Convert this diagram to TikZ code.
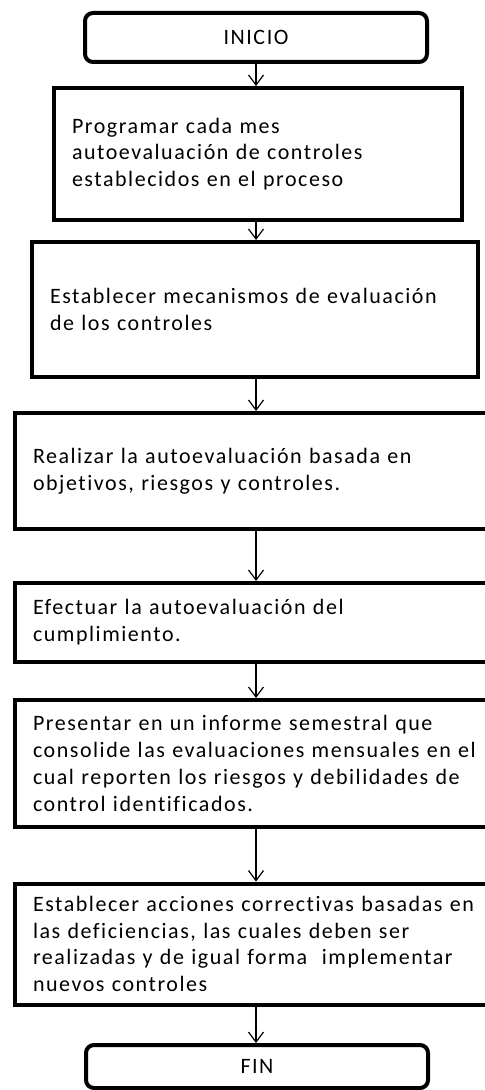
\documentclass[tikz,border=0pt]{standalone}
\usepackage{fontspec}
\setmainfont{Carlito}[LetterSpace=7,WordSpace=0.6,Ligatures=NoCommon]
\usepackage{tikz}
\usetikzlibrary{arrows.meta}

\tikzset{
    paso/.style={
        draw,
        line width=2pt,
        fill=white,
        align=left,
        anchor=west,
        inner xsep=9pt,
        font=\fontsize{11}{13.4}\selectfont
    },
    extremo/.style={
        draw,
        line width=2pt,
        rounded corners=4pt,
        fill=white,
        minimum width=171pt,
        font=\fontsize{11}{13.4}\selectfont
    },
    flecha/.style={
        -{Straight Barb[length=5pt,width=7.5pt]},
        line width=0.6pt
    }
}

\begin{document}
\begin{tikzpicture}[x=0.5pt,y=-0.5pt]

\useasboundingbox (0,0) rectangle (485,1090);

\node[extremo, minimum height=24.5pt] (inicio) at (256,37.5) {INICIO};

\node[paso, text width=186pt, minimum height=66pt] (prog) at (52,154)
{Programar cada mes\\
autoevaluación de controles\\
establecidos en el proceso};

\node[paso, text width=205pt, minimum height=67.5pt] (meca) at (30,309.5)
{Establecer mecanismos de evaluación\\
de los controles};

\node[paso, text width=240pt, minimum height=58pt] (real) at (13,471)
{Realizar la autoevaluación basada en\\
objetivos, riesgos y controles.};

\node[paso, text width=240pt, minimum height=39.5pt] (efec) at (13,622.5)
{Efectuar la autoevaluación del\\
cumplimiento.};

\node[paso, text width=240pt, minimum height=63.5pt] (info) at (13,763.5)
{Presentar en un informe semestral que\\
consolide las evaluaciones mensuales en el\\
cual reporten los riesgos y debilidades de\\
control identificados.};

\node[paso, text width=240pt, minimum height=60.5pt] (acci) at (13,944)
{Establecer acciones correctivas basadas en\\
las deficiencias, las cuales deben ser\\
realizadas y de igual forma\ \ implementar\\
nuevos controles};

\node[extremo, minimum height=21.5pt] (fin) at (257,1066.5) {FIN};

% conectores
\foreach \a/\b in {inicio/prog, prog/meca, meca/real, real/efec, efec/info, info/acci, acci/fin}
    \draw[flecha] (\a.south -| inicio) -- (\b.north -| inicio);

\end{tikzpicture}
\end{document}
